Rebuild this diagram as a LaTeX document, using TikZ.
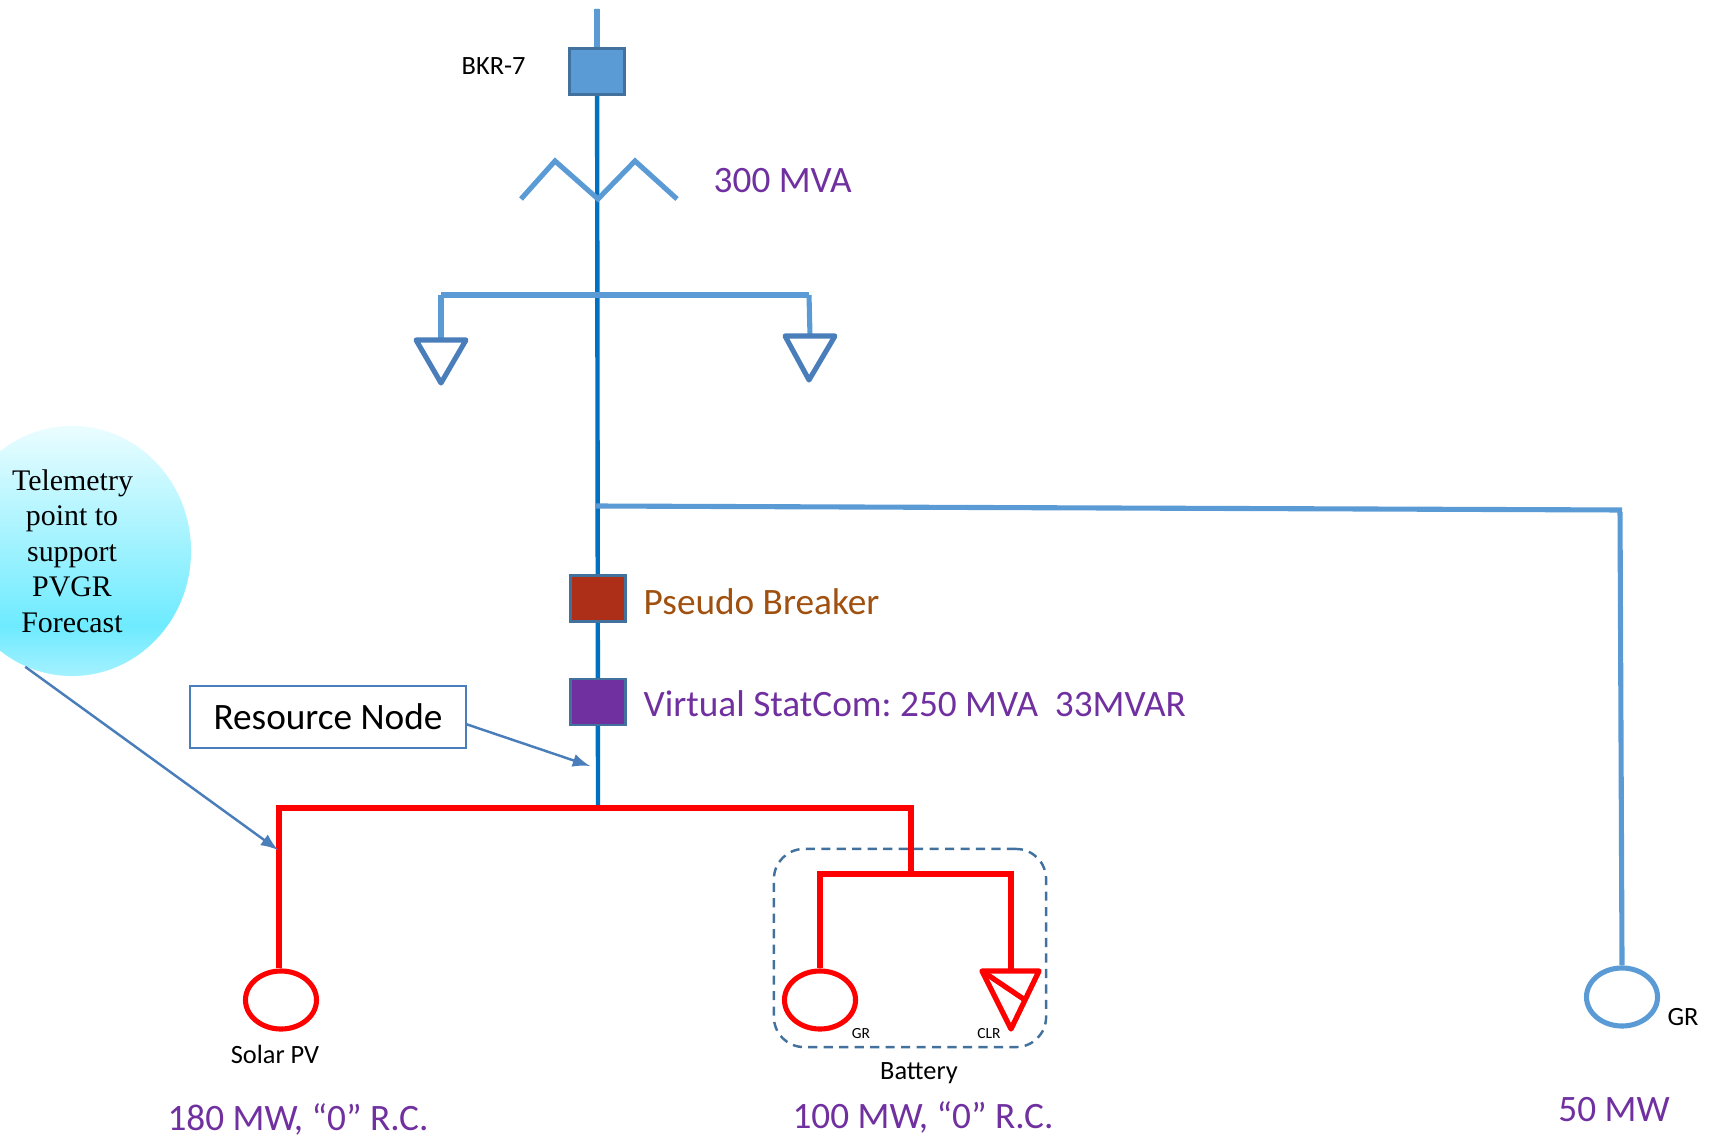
\documentclass[tikz,border=0pt]{standalone}
\usepackage{fontspec}
\setmainfont{Carlito}
\newfontfamily\serifface{Liberation Serif}
\usepackage{tikz}
\usetikzlibrary{calc,positioning,shapes.geometric}
\definecolor{feedblue}{HTML}{5B9BD5}
\definecolor{mainblue}{HTML}{0070C0}
\definecolor{edgeblue}{HTML}{41719C}
\definecolor{tipblue}{HTML}{4A7EBB}
\definecolor{ratepurple}{HTML}{7030A0}
\definecolor{pseudored}{HTML}{AE2F17}
\definecolor{pseudotext}{HTML}{A0500F}
\definecolor{redbus}{HTML}{FF0000}
\definecolor{telelow}{HTML}{A4F1FF}
\definecolor{telemid}{HTML}{6EEBFF}
\definecolor{telehigh}{HTML}{EAFDFF}
\pgfdeclareverticalshading{telemetry}{100bp}{color(0bp)=(telelow); color(25bp)=(telelow); color(35bp)=(telemid); color(75bp)=(telehigh); color(100bp)=(telehigh)}
\tikzset{
  breaker/.style={rectangle, draw=edgeblue, line width=0.7pt, minimum width=0.55cm, minimum height=0.46cm, inner sep=0pt},
  gen/.style={ellipse, draw, fill=white, line width=1.45pt, minimum width=0.71cm, minimum height=0.58cm, inner sep=0pt},
  big/.style={inner sep=0pt, font=\fontsize{10.6}{12}\selectfont},
  small/.style={inner sep=0pt, font=\fontsize{7.5}{9}\selectfont},
  tiny/.style={inner sep=0pt, font=\fontsize{4.4}{5}\selectfont},
  feed/.style={feedblue, line width=1.45pt},
  redline/.style={redbus, line width=1.5pt},
  callout/.style={tipblue, line width=0.7pt, -latex}
}
\begin{document}
\begin{tikzpicture}[x=0.01cm,y=-0.01cm]
\useasboundingbox (0,0) rectangle (1710,1137);
\coordinate (top) at (597,9);
\coordinate (end) at (598,808);
\coordinate (z1) at (521,199);
\coordinate (z2) at (555,161);
\coordinate (z3) at (598,199);
\coordinate (z4) at (635,161);
\coordinate (z5) at (677,199);
\coordinate (b0) at (597,295);
\coordinate (b1) at (441,295);
\coordinate (b2) at (809,295);
\coordinate (t11) at (416,340);
\coordinate (t12) at (466,340);
\coordinate (t13) at (441,383);
\coordinate (t21) at (785,336);
\coordinate (t22) at (835,336);
\coordinate (t23) at (809,380);
\coordinate (f1) at (595,506);
\coordinate (f2) at (1622,510);
\coordinate (r1) at (279,808);
\coordinate (r2) at (911,808);
\coordinate (r3) at (911,873);
\coordinate (r4) at (820,874);
\coordinate (r5) at (1011,874);
\coordinate (c1) at (982,971);
\coordinate (c2) at (1039,971);
\coordinate (c3) at (1011,1029);
\coordinate (c4) at (1025,1000);
\coordinate (a1) at (590,766);
\coordinate (a2) at (278,850);
\node[rectangle, draw=edgeblue, dash pattern=on 2.6pt off 1.8pt, line width=0.7pt, rounded corners=0.3cm, minimum width=2.72cm, minimum height=1.98cm, inner sep=0pt] (batt) at (910,948){};
\draw[mainblue, line width=1.25pt] (top) -- (end);
\draw[feed] (top) -- (597,48);
\node[breaker, fill=feedblue] (bkr) at (597,71.5){};
\node[breaker, fill=pseudored] (pb) at (598,598.5){};
\node[breaker, fill=ratepurple] (vs) at (598,702){};
\draw[feed, line join=miter] (z1) -- (z2) -- (z3) -- (z4) -- (z5);
\draw[feed] (b1) -- (b2);
\draw[feed] (b1) -- ($(t11)!0.5!(t12)$);
\draw[feed] (b2) -- ($(t21)!0.5!(t22)$);
\draw[tipblue, line width=1.45pt, line join=round] (t11) -- (t12) -- (t13) -- cycle;
\draw[tipblue, line width=1.45pt, line join=round] (t21) -- (t22) -- (t23) -- cycle;
\draw[feed] (f1) -- (f2);
\node[gen, draw=feedblue] (g3) at (1622,997){};
\draw[feed] (1620,512) -- (g3.north);
\node[gen, draw=redbus] (g1) at (281,1000){};
\node[gen, draw=redbus] (g2) at (820,1000){};
\draw[redline] (r1 |- g1.north) -- (r1) -- (r2) -- (r3);
\draw[redline] (g2.north) -- (r4) -- (r5) -- (c1 -| r5);
\draw[redline, line join=round] (c1) -- (c2) -- (c3) -- cycle;
\draw[redline] (c1) -- (c4);
\node[ellipse, shade, shading=telemetry, minimum width=2.38cm, minimum height=2.5cm, inner sep=0pt, align=center, font=\serifface\fontsize{8.5}{10.1}\selectfont] (tele) at (72,551){\hspace{0.3pt}Telemetry\\point to\\support\\PVGR\\Forecast};
\node[rectangle, draw=tipblue, fill=white, line width=0.55pt, minimum width=2.75cm, minimum height=0.62cm, inner sep=0pt, big] (res) at (328,717){Resource Node\hspace{2pt}};
\draw[callout] (res.-3) -- (a1);
\draw[callout] (tele.248) -- (a2);
\node[small, anchor=west] (l1) at (461,66){BKR-7};
\node[big, anchor=west, text=ratepurple] (l2) at (713,181){300 MVA};
\node[big, anchor=west, text=pseudotext] (l3) at (643,602){Pseudo Breaker};
\node[big, anchor=west, text=ratepurple] (l4) at (643,704){Virtual StatCom:\kern-0.8pt{} 250 MVA\ \ 33MVAR};
\node[small] (l5) at (275,1054){Solar PV};
\node[tiny] (l6) at (861,1034){GR};
\node[tiny] (l7) at (989,1034){CLR};
\node[small] (l8) at (919,1073){Battery};
\node[small] (l9) at (1683,1017){GR};
\node[big, text=ratepurple] (l10) at (298,1119){180 MW, “0” R.C.};
\node[big, text=ratepurple] (l11) at (923,1117){100 MW, “0” R.C.};
\node[big, text=ratepurple] (l12) at (1614,1110){50 MW};
\end{tikzpicture}
\end{document}
